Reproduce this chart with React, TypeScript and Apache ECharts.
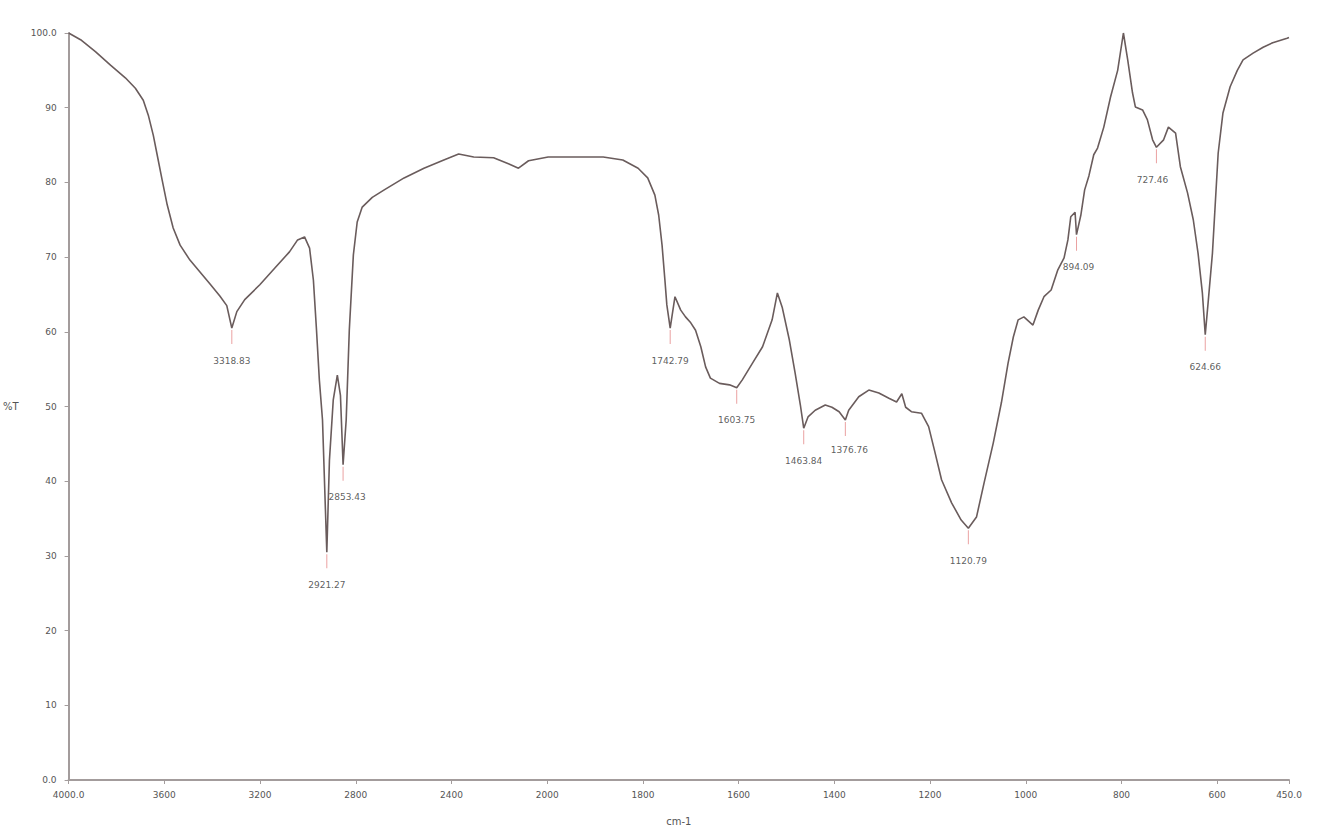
import React, { useEffect, useRef } from "react";
import * as echarts from "echarts";

// FTIR spectrum: wavenumber (cm-1) and transmittance (%T)
const wavenumbers = [
  4000, 3950, 3888, 3825, 3763, 3721, 3688, 3667, 3646, 3630, 3609, 3588, 3563, 3534, 3493, 3451, 3409, 3368, 3339, 3318,
  3297, 3264, 3201, 3139, 3077, 3043, 3014, 2993, 2977, 2964, 2952, 2939, 2921, 2910, 2894, 2877, 2864, 2853, 2840, 2827,
  2810, 2794, 2773, 2731, 2681, 2598, 2515, 2432, 2370, 2307, 2224, 2162, 2120, 2078, 1998, 1946, 1883, 1842, 1810, 1790,
  1775, 1767, 1760, 1754, 1750, 1743, 1733, 1721, 1711, 1700, 1690, 1679, 1669, 1659, 1640, 1619, 1604, 1592, 1571, 1550,
  1530, 1519, 1509, 1494, 1482, 1471, 1464, 1455, 1440, 1419, 1405, 1390, 1377, 1370, 1349, 1328, 1307, 1286, 1270, 1259,
  1251, 1239, 1218, 1203, 1191, 1176, 1155, 1135, 1120, 1103, 1087, 1068, 1051, 1037, 1026, 1016, 1004, 985, 974, 962,
  947, 933, 920, 912, 906, 897, 894, 885, 877, 868, 858, 850, 837, 823, 808, 796, 787, 777, 771, 756,
  746, 735, 727, 712, 702, 687, 677, 662, 650, 640, 631, 625, 619, 610, 604, 598, 588, 573, 558, 546,
  525, 504, 484, 454, 450,
];
const transmittance = [
  100.0, 99.1, 97.5, 95.7, 94.0, 92.6, 91.0, 89.0, 86.3, 83.7, 80.3, 77.0, 73.9, 71.6, 69.6, 68.0, 66.4, 64.8, 63.5, 60.5,
  62.7, 64.3, 66.3, 68.5, 70.7, 72.3, 72.7, 71.2, 66.9, 60.2, 53.5, 48.2, 30.5, 42.8, 50.9, 54.2, 51.5, 42.2, 48.2, 60.2,
  70.3, 74.7, 76.7, 78.0, 79.0, 80.6, 81.9, 83.0, 83.8, 83.4, 83.3, 82.5, 81.9, 82.9, 83.4, 83.4, 83.4, 83.0, 81.9, 80.6,
  78.3, 75.6, 71.6, 66.9, 63.6, 60.5, 64.7, 62.9, 62.0, 61.2, 60.2, 58.0, 55.3, 53.8, 53.1, 52.9, 52.5, 53.6, 55.8, 58.0,
  61.6, 65.2, 63.3, 58.9, 54.5, 50.2, 47.1, 48.6, 49.5, 50.2, 49.9, 49.3, 48.2, 49.5, 51.3, 52.2, 51.8, 51.1, 50.6, 51.7,
  49.9, 49.3, 49.1, 47.3, 44.2, 40.2, 37.1, 34.8, 33.7, 35.2, 39.8, 45.1, 50.5, 55.8, 59.3, 61.6, 62.0, 60.9, 62.9, 64.7,
  65.6, 68.3, 69.9, 72.3, 75.4, 76.0, 73.0, 75.6, 79.0, 80.9, 83.7, 84.6, 87.4, 91.4, 95.0, 100.0, 96.4, 92.0, 90.1, 89.7,
  88.4, 85.7, 84.7, 85.7, 87.4, 86.6, 82.1, 78.6, 75.0, 70.5, 65.2, 59.6, 63.9, 70.5, 77.2, 83.9, 89.3, 92.8, 95.0, 96.4,
  97.3, 98.1, 98.7, 99.3, 99.4,
];

const peakWavenumbers = [3318, 2921, 2853, 1743, 1604, 1464, 1377, 1120, 894, 727, 625];
const peakTransmittance = [60.5, 30.5, 42.2, 60.5, 52.5, 47.1, 48.2, 33.7, 73.0, 84.7, 59.6];
const peakLabels = [
  "3318.83", "2921.27", "2853.43", "1742.79", "1603.75", "1463.84", "1376.76", "1120.79", "894.09", "727.46", "624.66",
];
const peakLabelOffsets = [
  [0, 0], [0, 0], [4, 0], [0, 0], [0, 0], [0, 0], [4, -2], [0, 0], [2, 0], [-4, 0], [0, 0],
];

// x-axis is split: 4000-2000 compressed (half scale), 2000-450 full scale
const toU = (w: number) => (w >= 2000 ? (4000 - w) / 2 : 1000 + (2000 - w));
const fromU = (u: number) => (u <= 1000 ? 4000 - 2 * u : 3000 - u);

export default function App() {
  const ref = useRef<HTMLDivElement>(null);
  useEffect(() => {
    if (!ref.current) return;
    const chart = echarts.init(ref.current, null, { renderer: "svg" });
    const lineData = wavenumbers.map((w, i) => [toU(w), transmittance[i]]);
    const peakData = peakWavenumbers.map((w, i) => ({
      value: [toU(w), peakTransmittance[i]],
      name: peakLabels[i],
      label: { offset: peakLabelOffsets[i] },
    }));
    const axisColor = "#a39c9c";
    const textColor = "#555";
    chart.setOption({
      animation: false,
      backgroundColor: "#fff",
      grid: { left: 63, right: 44, top: 33, bottom: 58 },
      xAxis: {
        type: "value",
        min: 0,
        max: 2550,
        interval: 200,
        name: "cm-1",
        nameLocation: "middle",
        nameGap: 36,
        nameTextStyle: { color: textColor, fontSize: 10, fontFamily: "DejaVu Sans" },
        axisLine: { lineStyle: { color: axisColor, width: 2 } },
        axisTick: { show: true, length: 4, lineStyle: { color: axisColor } },
        splitLine: { show: false },
        axisLabel: {
          color: textColor,
          fontSize: 9,
          margin: 10,
          fontFamily: "DejaVu Sans",
          formatter: (u: number) => {
            if (u === 0) return "4000.0";
            if (u === 2550) return "450.0";
            return String(Math.round(fromU(u)));
          },
        },
      },
      yAxis: {
        type: "value",
        min: 0,
        max: 100,
        interval: 10,
        name: "%T",
        nameLocation: "middle",
        nameGap: 50,
        nameRotate: 0,
        nameTextStyle: { color: textColor, fontSize: 10, fontFamily: "DejaVu Sans" },
        axisLine: { show: true, lineStyle: { color: axisColor, width: 2 } },
        axisTick: { show: true, length: 4, lineStyle: { color: axisColor } },
        splitLine: { show: false },
        axisLabel: {
          color: textColor,
          fontSize: 9,
          margin: 12,
          fontFamily: "DejaVu Sans",
          formatter: (v: number) => (v === 0 ? "0.0" : v === 100 ? "100.0" : String(v)),
        },
      },
      series: [
        {
          type: "line",
          data: lineData,
          showSymbol: false,
          lineStyle: { color: "#6a5c5c", width: 1.6 },
          z: 3,
        },
        {
          type: "scatter",
          data: peakData,
          symbol: "rect",
          symbolSize: [1, 14],
          symbolOffset: [0, 9],
          itemStyle: { color: "#e58a8a" },
          label: {
            show: true,
            position: "bottom",
            distance: 12,
            color: "#333",
            fontSize: 9,
            fontFamily: "DejaVu Sans",
            backgroundColor: "rgba(255,255,255,0.8)",
            formatter: (p: any) => p.name,
          },
          z: 2,
        },
      ],
    });
    return () => chart.dispose();
  }, []);
  return (
    <div
      ref={ref}
      style={{ position: "fixed", left: 0, top: 0, width: 1333, height: 838, background: "#fff" }}
    />
  );
}
